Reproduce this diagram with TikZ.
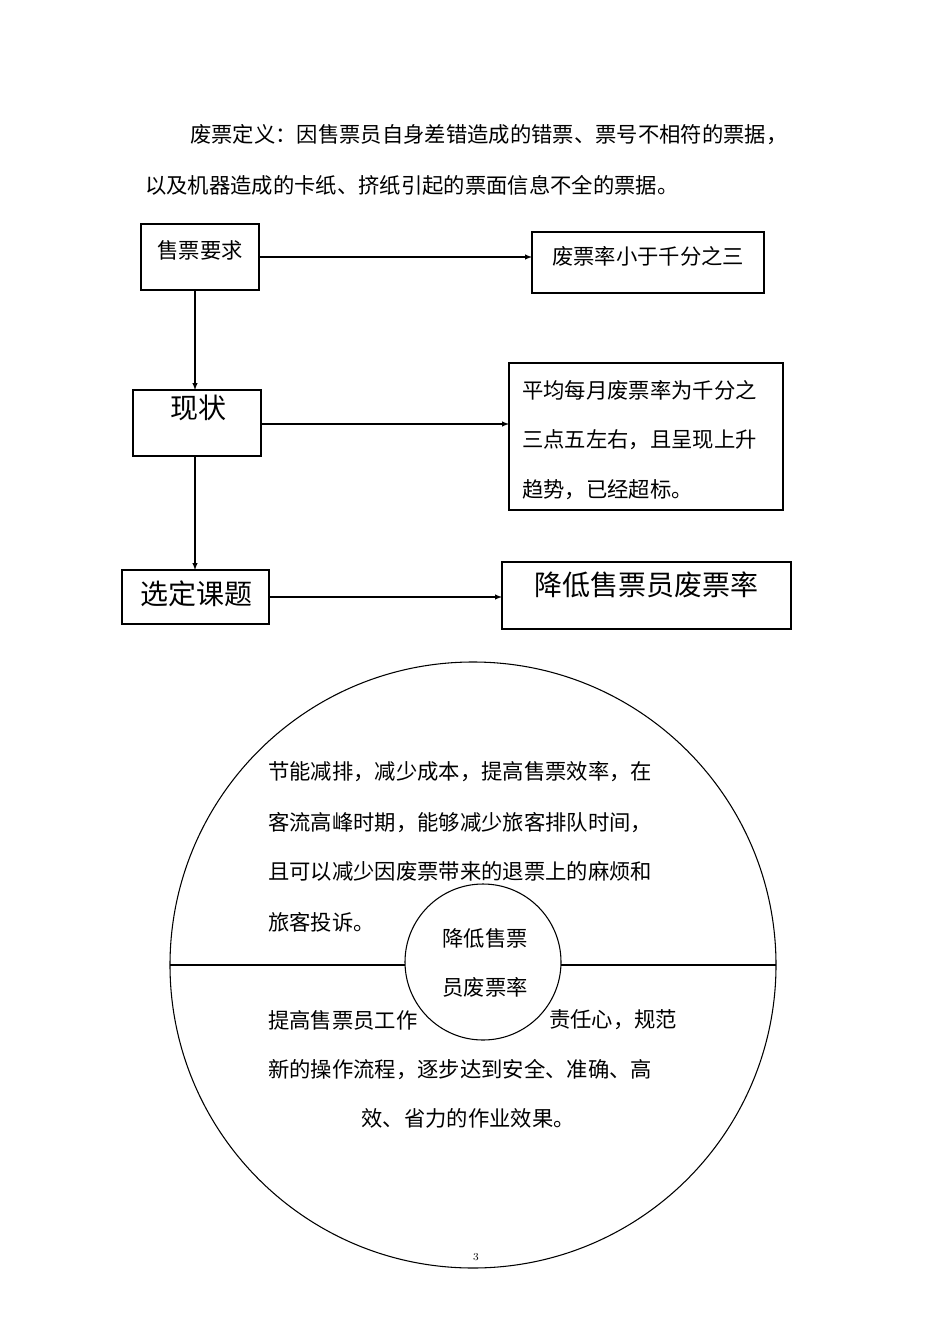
\documentclass[tikz,border=0pt]{standalone}
\usepackage{fontspec}
\newfontfamily\cjk{Noto Sans CJK SC}
\begin{document}
\begin{tikzpicture}[x=0.75pt,y=-0.75pt,
  bx/.style={draw,line width=0.8pt},
  arr/.style={-latex,line width=0.8pt},
  t/.style={font=\cjk\fontsize{16}{18}\selectfont,inner sep=0pt},
  tl/.style={font=\cjk\fontsize{21}{24}\selectfont,inner sep=0pt}]
\useasboundingbox (0,0) rectangle (950,1344);
\node[t,anchor=west] (h1) at (190,135) {废票定义：因售票员自身差错造成的错票、票号不相符的票据，};
\node[t,anchor=west] (h2) at (145,185) {以及机器造成的卡纸、挤纸引起的票面信息不全的票据。};
\draw[bx] (141,224) rectangle (259,290); \node[t] (a) at (200,250) {售票要求};
\coordinate (ar) at (259,257); \coordinate (ab) at (195,290);
\draw[bx] (532,232) rectangle (764,293); \node[t] (b) at (648,256) {废票率小于千分之三};
\coordinate (bl) at (532,257);
\draw[bx] (133,390) rectangle (261,456); \node[tl] (c) at (198,408) {现状};
\coordinate (ct) at (195,390); \coordinate (cr) at (261,424); \coordinate (cb) at (195,456);
\draw[bx] (509,363) rectangle (783,510);
\node[t,anchor=west] (d1) at (522,390) {平均每月废票率为千分之};
\node[t,anchor=west] (d2) at (522,440) {三点五左右，且呈现上升};
\node[t,anchor=west] (d3) at (522,490) {趋势，已经超标。};
\coordinate (dl) at (509,424);
\draw[bx] (122,570) rectangle (269,624); \node[tl] (e) at (196,594) {选定课题};
\coordinate (et) at (195,570); \coordinate (er) at (269,597);
\draw[bx] (502,562) rectangle (791,629); \node[tl] (f) at (646,585) {降低售票员废票率};
\coordinate (fl) at (502,597);
\draw[arr] (ar) -- (bl);
\draw[arr] (ab) -- (ct);
\draw[arr] (cr) -- (dl);
\draw[arr] (cb) -- (et);
\draw[arr] (er) -- (fl);
\draw[line width=0.8pt] (473,965) circle[radius=303];
\draw[line width=0.8pt] (170,965) -- (776,965);
\draw[line width=0.8pt,fill=white] (483,962) circle[radius=78];
\node[t] (i1) at (485,938) {降低售票};
\node[t] (i2) at (485,987) {员废票率};
\node[t,anchor=west] (u1) at (268,772) {节能减排，减少成本，提高售票效率，在};
\node[t,anchor=west] (u2) at (268,823) {客流高峰时期，能够减少旅客排队时间，};
\node[t,anchor=west] (u3) at (268,871) {且可以减少因废票带来的退票上的麻烦和};
\node[t,anchor=west] (u4) at (268,922) {旅客投诉。};
\node[t,anchor=west] (l1) at (268,1020) {提高售票员工作};
\node[t,anchor=west] (l1b) at (549,1020) {责任心，规范};
\node[t,anchor=west] (l2) at (268,1070) {新的操作流程，逐步达到安全、准确、高};
\node[t] (l3) at (468,1118) {效、省力的作业效果。};
\node[font=\fontsize{8}{9}\selectfont,inner sep=0pt] (pg) at (476,1257) {3};
\end{tikzpicture}
\end{document}
